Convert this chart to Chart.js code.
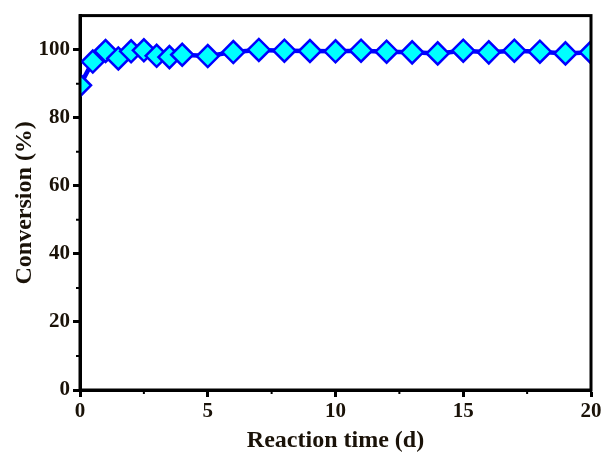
<!DOCTYPE html>
<html>
<head>
<meta charset="utf-8">
<script src="https://cdn.jsdelivr.net/npm/chart.js@4.4.1/dist/chart.umd.min.js"></script>
<style>
  html, body { margin: 0; padding: 0; background: #fff; }
  #wrap { width: 606px; height: 456px; }
</style>
</head>
<body>
<div id="wrap"><canvas id="conv"></canvas></div>
<script>
// Reaction time (days) and conversion (%)
const days = [0, 0.5, 1, 1.5, 2, 2.5, 3, 3.5, 4, 5, 6, 7, 8, 9, 10, 11, 12, 13, 14, 15, 16, 17, 18, 19, 20];
const conversion = [89.5, 96.5, 99.6, 97.4, 99.5, 99.8, 98.2, 97.8, 98.5, 98.1, 99.3, 99.9, 99.7, 99.6, 99.5, 99.7, 99.4, 99.2, 98.9, 99.7, 99.2, 99.7, 99.4, 98.9, 99.2];
const xTicks = [0, 5, 10, 15, 20];
const yTicks = [0, 20, 40, 60, 80, 100];

const font = 'Liberation Serif, Times New Roman, serif';
const ink = '#1a1208';

// box frame + minor ticks
const framePlugin = {
    id: 'frame',
    afterDraw(chart) {
        const { ctx, chartArea: a, scales } = chart;
        ctx.save();
        ctx.strokeStyle = '#000';
        ctx.lineWidth = 3;
        ctx.strokeRect(a.left, a.top, a.right - a.left, a.bottom - a.top);
        ctx.lineWidth = 2;
        ctx.beginPath();
        for (let v = 2.5; v < 20; v += 5) {
            const px = scales.x.getPixelForValue(v);
            ctx.moveTo(px, a.bottom);
            ctx.lineTo(px, a.bottom + 4);
        }
        for (let v = 10; v < 110; v += 20) {
            const py = scales.y.getPixelForValue(v);
            ctx.moveTo(a.left, py);
            ctx.lineTo(a.left - 4, py);
        }
        ctx.stroke();
        ctx.restore();
    }
};

new Chart(document.getElementById('conv'), {
    type: 'line',
    data: {
        datasets: [{
            data: days.map((d, i) => ({ x: d, y: conversion[i] })),
            borderColor: '#0000ff',
            borderWidth: 4.5,
            pointStyle: 'rectRot',
            pointRadius: 11,
            pointBorderWidth: 2.5,
            pointBackgroundColor: '#00ffff',
            pointBorderColor: '#0000ff',
            tension: 0
        }]
    },
    options: {
        responsive: true,
        maintainAspectRatio: false,
        animation: false,
        layout: { padding: { top: 15, right: 15, left: 10, bottom: 1 } },
        plugins: { legend: { display: false }, tooltip: { enabled: false } },
        scales: {
            x: {
                type: 'linear',
                min: 0,
                max: 20,
                afterBuildTicks: (s) => { s.ticks = xTicks.map(v => ({ value: v })); },
                grid: { drawOnChartArea: false, tickLength: 7, tickWidth: 3, color: '#000' },
                border: { color: '#000', width: 3 },
                ticks: { color: ink, font: { family: font, size: 21, weight: 'bold' }, padding: 2, maxRotation: 0 },
                title: { display: true, text: 'Reaction time (d)', color: ink, font: { family: font, size: 24, weight: 'bold' }, padding: { top: 0, bottom: 0 } }
            },
            y: {
                min: 0,
                max: 110,
                afterBuildTicks: (s) => { s.ticks = yTicks.map(v => ({ value: v })); },
                afterFit: (s) => { s.width = 70; },
                grid: { drawOnChartArea: false, tickLength: 7, tickWidth: 3, color: '#000' },
                border: { color: '#000', width: 3 },
                ticks: { color: ink, font: { family: font, size: 21, weight: 'bold' }, padding: 3 },
                title: { display: true, text: 'Conversion (%)', color: ink, font: { family: font, size: 24, weight: 'bold' }, padding: { top: 0, bottom: 4 } }
            }
        }
    },
    plugins: [framePlugin]
});
</script>
</body>
</html>
